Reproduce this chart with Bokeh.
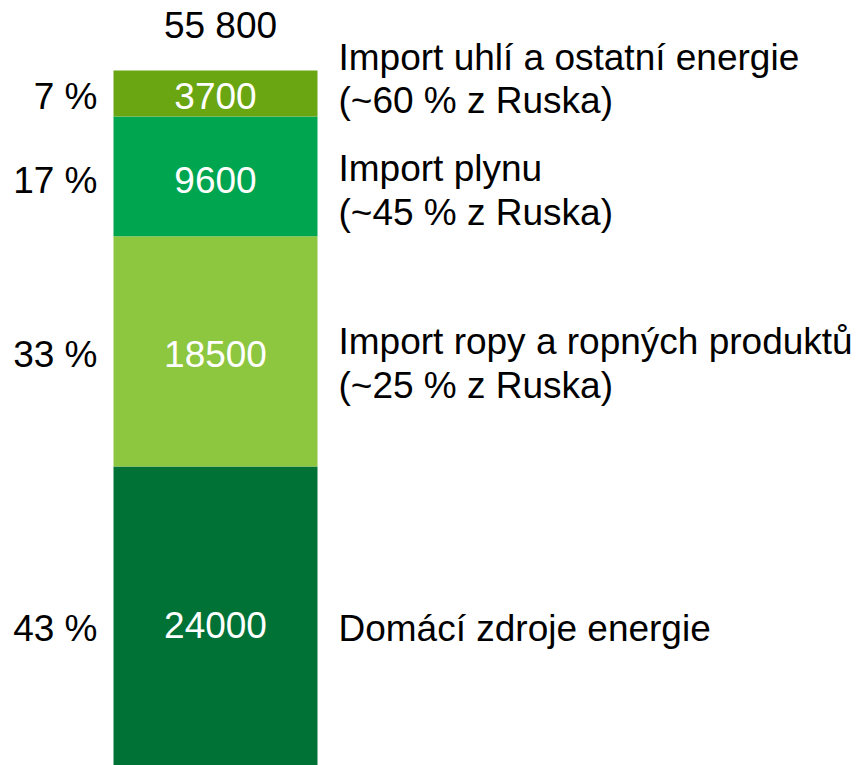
import numpy as np
from bokeh.plotting import figure
from bokeh.models import Range1d, ColumnDataSource
from bokeh.core.properties import value
from bokeh.embed import file_html
from bokeh.resources import INLINE

# Data (bottom to top)
categories_line1 = ["Domácí zdroje energie", "Import ropy a ropných produktů", "Import plynu", "Import uhlí a ostatní energie"]
categories_line2 = ["", "(~25 % z Ruska)", "(~45 % z Ruska)", "(~60 % z Ruska)"]
values = [24000, 18500, 9600, 3700]
colors = ["#007236", "#8DC63F", "#00A550", "#6AA512"]

# layout (pixel offsets relative to segment middle)
num_dy = [9, 3, 4, 2]
pct_dy = [12, 3, 4, 3]
l1_dy = [12, -10, -8, -36]
l2_dy = [0, 34, 36, 7]

vals = np.array(values, dtype=float)
tops = np.cumsum(vals)
bottoms = tops - vals
mids = (tops + bottoms) / 2
total = vals.sum()
pcts = [f"{round(v / total * 100):.0f} %" for v in vals]
total_label = f"{int(total):,}".replace(",", " ")

W, H = 862, 765
k = 695.0 / total  # px per unit
ystart = 0
yend = H / k

p = figure(width=W, height=H, output_backend="svg", toolbar_location=None,
           x_range=Range1d(0, W), y_range=Range1d(ystart, yend),
           x_axis_type=None, y_axis_type=None, min_border=0)
p.outline_line_color = None
p.grid.visible = False
p.background_fill_color = "white"
p.border_fill_color = "white"

src = ColumnDataSource(dict(bottom=bottoms, top=tops, color=colors, mid=mids,
                            num=[str(v) for v in values], pct=pcts,
                            l1=categories_line1, l2=categories_line2,
                            num_dy=num_dy, pct_dy=pct_dy, l1_dy=l1_dy, l2_dy=l2_dy))

bar_x = 215
p.vbar(x=bar_x, width=204, bottom="bottom", top="top", fill_color="color",
       line_color=None, source=src)

font = value("Liberation Sans")
fs = "37px"
p.text(x=bar_x, y="mid", text="num", text_color="white", text_font=font,
       text_font_size=fs, text_align="center", text_baseline="middle",
       y_offset="num_dy", source=src)
p.text(x=97, y="mid", text="pct", text_color="black", text_font=font,
       text_font_size=fs, text_align="right", text_baseline="middle",
       y_offset="pct_dy", source=src)
p.text(x=338, y="mid", text="l1", text_color="black", text_font=font,
       text_font_size=fs, text_align="left", text_baseline="middle",
       y_offset="l1_dy", source=src)
p.text(x=338, y="mid", text="l2", text_color="black", text_font=font,
       text_font_size=fs, text_align="left", text_baseline="middle",
       y_offset="l2_dy", source=src)
p.text(x=[220], y=[total], text=[total_label], text_color="black", text_font=font,
       text_font_size=fs, text_align="center", text_baseline="middle",
       y_offset=-45)

open("out.html", "w").write(file_html(p, INLINE))
